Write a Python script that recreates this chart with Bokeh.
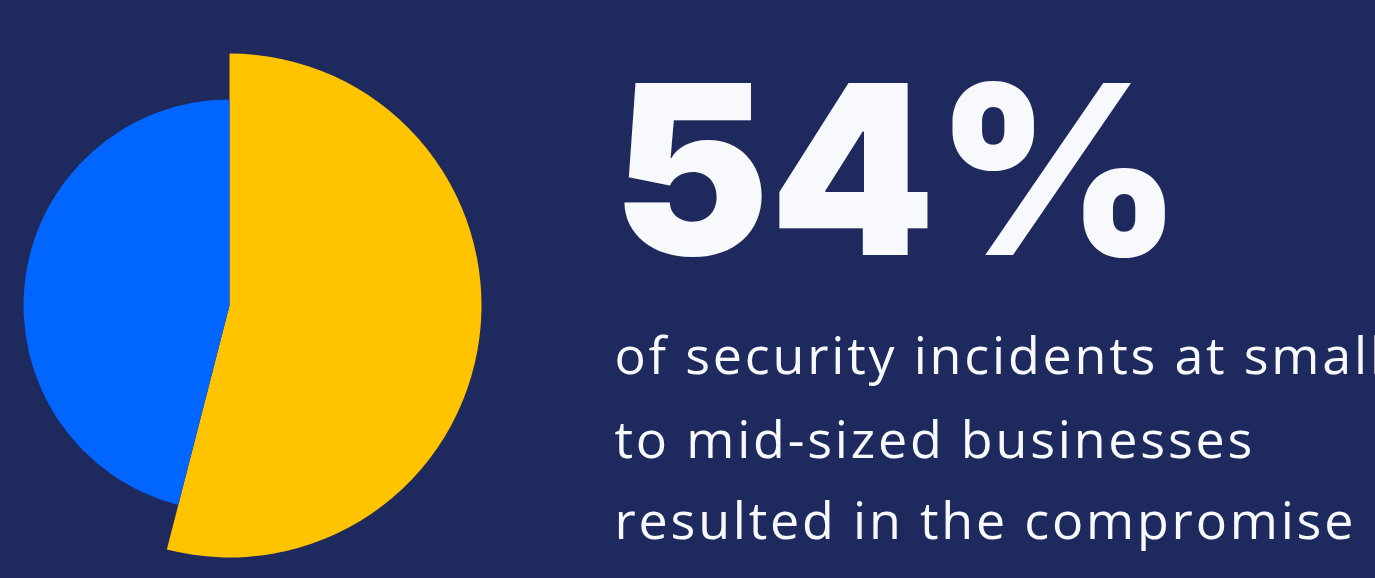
from bokeh.plotting import figure
from bokeh.models import Range1d
from bokeh.layouts import row, column
from bokeh.core.properties import value
from bokeh.embed import file_html
from bokeh.resources import INLINE
import math

W, H = 1375, 578

# data
categories = ["Compromised", "Other"]
shares = [0.54, 0.46]
colors = ["#ffc300", "#0066ff"]
radii = [252, 206]
headline = "54%"
body_lines = ["of security incidents at small",
              "to mid-sized businesses",
              "resulted in the compromise"]

BG = "#1e2a5d"
FG = "#f8f9fc"
SPLIT_X = 600
SPLIT_Y = 312


def make_fig(x0, x1, y0, y1):
    f = figure(width=x1 - x0, height=y1 - y0,
               x_range=Range1d(x0, x1), y_range=Range1d(H - y1, H - y0),
               output_backend="svg", toolbar_location=None, min_border=0)
    f.axis.visible = False
    f.grid.visible = False
    f.outline_line_color = None
    f.background_fill_color = BG
    f.border_fill_color = BG
    return f


pie = make_fig(0, SPLIT_X, 0, H)
cx, cy = 229, H - 305
start = math.pi / 2
for share, col, r in zip(shares, colors, radii):
    end = start - share * 2 * math.pi
    pie.wedge(x=cx, y=cy, radius=r, start_angle=start, end_angle=end,
              direction="clock", fill_color=col, line_color=None)
    start = end

head = make_fig(SPLIT_X, W, 0, SPLIT_Y)
head.text(x=[612], y=[H - 168], text=[headline], text_font=value("Inter Black"),
          text_font_size="236px", text_color=FG,
          text_baseline="alphabetic", text_align="left")

body = make_fig(SPLIT_X, W, SPLIT_Y, H)
body.styles = {"letter-spacing": "2.8px"}
ys = [H - 353, H - 437, H - 518]
body.text(x=[614] * 3, y=ys, text=body_lines, text_font=value("Open Sans"),
          text_font_size="52px", text_color=FG,
          text_baseline="alphabetic", text_align="left")

layout = row(pie, column(head, body, spacing=0), spacing=0)
layout.styles = {"background-color": BG}
open("out.html", "w").write(file_html(layout, INLINE))
